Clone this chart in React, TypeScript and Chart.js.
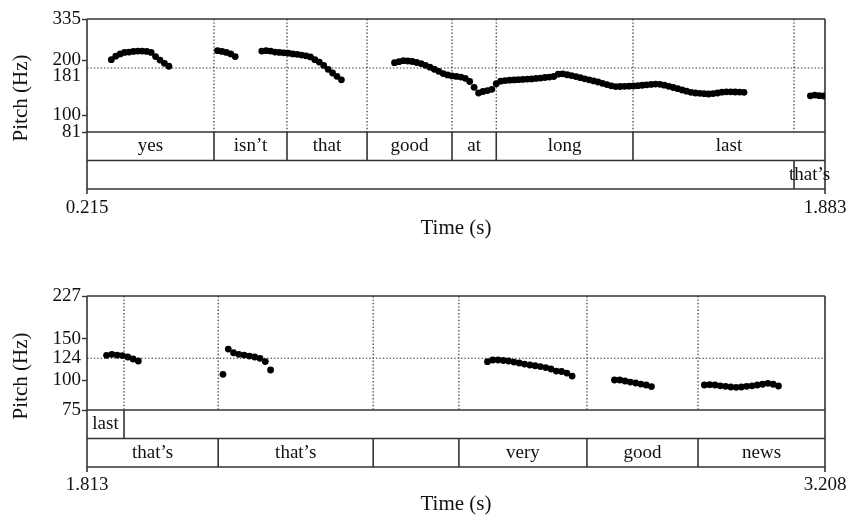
import React, { useEffect, useRef } from "react";
import { Chart, registerables } from "chart.js";

Chart.register(...registerables);

const FONT = '"Liberation Serif", "Times New Roman", serif';

// ---- pitch track: time (s) and F0 (Hz), one pair of arrays per voiced stretch ----
const yesTimes = [0.27, 0.28, 0.29, 0.30, 0.31, 0.32, 0.33, 0.34, 0.35, 0.36, 0.37, 0.38, 0.39, 0.40];
const yesHz = [201, 210, 216, 220, 221, 223, 224, 224, 223, 220, 209, 200, 192, 185];

const isntTimes = [0.51, 0.52, 0.53, 0.54, 0.55];
const isntHz = [225, 223, 220, 216, 209];

const thatTimes = [0.61, 0.62, 0.63, 0.64, 0.65, 0.66, 0.67, 0.68, 0.69, 0.70, 0.71, 0.72, 0.73, 0.74, 0.75, 0.76, 0.77, 0.78, 0.79];
const thatHz = [224, 225, 224, 221, 220, 219, 218, 216, 215, 213, 211, 208, 201, 195, 187, 178, 170, 163, 156];

const goodLongLastTimes = [
  0.91, 0.92, 0.93, 0.94, 0.95, 0.96, 0.97, 0.98, 0.99, 1.00,
  1.01, 1.02, 1.03, 1.04, 1.05, 1.06, 1.07, 1.08, 1.09, 1.10,
  1.11, 1.12, 1.13, 1.14, 1.15, 1.16, 1.17, 1.18, 1.19, 1.20,
  1.21, 1.22, 1.23, 1.24, 1.25, 1.26, 1.27, 1.28, 1.29, 1.30,
  1.31, 1.32, 1.33, 1.34, 1.35, 1.36, 1.37, 1.38, 1.39, 1.40,
  1.41, 1.42, 1.43, 1.44, 1.45, 1.46, 1.47, 1.48, 1.49, 1.50,
  1.51, 1.52, 1.53, 1.54, 1.55, 1.56, 1.57, 1.58, 1.59, 1.60,
  1.61, 1.62, 1.63, 1.64, 1.65, 1.66, 1.67, 1.68, 1.69, 1.70,
];
const goodLongLastHz = [
  193.5, 195.9, 198.4, 197.6, 196.4, 194.0, 191.3, 187.3, 182.9, 178.2,
  173.6, 168.7, 166.0, 163.9, 162.9, 161.6, 159.0, 152.8, 142.0, 132.2,
  134.7, 136.3, 138.5, 148.5, 153.3, 154.5, 155.3, 155.8, 156.4, 156.8,
  157.4, 157.8, 158.7, 159.5, 160.6, 161.6, 162.7, 167.5, 168.3, 166.3,
  164.6, 162.5, 160.3, 158.0, 156.1, 153.9, 151.8, 149.3, 146.9, 144.6,
  143.3, 143.5, 143.7, 144.0, 144.4, 144.9, 145.7, 146.6, 147.2, 147.9,
  147.5, 145.8, 143.7, 141.7, 139.6, 137.3, 135.3, 133.4, 132.2, 131.6,
  131.1, 130.6, 131.2, 132.2, 133.6, 134.2, 134.1, 133.9, 133.7, 133.4,
];

const lastThatsTimes = [1.85, 1.86, 1.87, 1.88, 1.89, 1.90, 1.91];
const lastThatsHz = [127.6, 128.8, 127.9, 127.3, 125.5, 123.1, 120.7];

const thatsTimes = [2.07, 2.08, 2.09, 2.10, 2.11, 2.12, 2.13, 2.14, 2.15, 2.16];
const thatsHz = [106.1, 135.6, 130.8, 128.8, 127.9, 126.7, 125.5, 123.9, 120.1, 110.6];

const veryTimes = [2.57, 2.58, 2.59, 2.60, 2.61, 2.62, 2.63, 2.64, 2.65, 2.66, 2.67, 2.68, 2.69, 2.70, 2.71, 2.72, 2.73];
const veryHz = [119.9, 121.9, 121.9, 121.3, 120.7, 119.5, 118.4, 117.2, 116.1, 115.3, 114.4, 113.3, 111.7, 109.5, 109.0, 107.4, 104.3];

const goodTimes = [2.81, 2.82, 2.83, 2.84, 2.85, 2.86, 2.87, 2.88];
const goodHz = [100.4, 100.4, 99.4, 98.4, 97.5, 96.5, 95.6, 94.2];

const newsTimes = [2.98, 2.99, 3.00, 3.01, 3.02, 3.03, 3.04, 3.05, 3.06, 3.07, 3.08, 3.09, 3.10, 3.11, 3.12];
const newsHz = [95.6, 95.9, 95.6, 94.9, 94.4, 93.8, 93.5, 93.8, 94.4, 94.9, 95.6, 96.3, 97.2, 96.3, 94.7];

// ---- text-grid tiers ----
const wordLabels = ["yes", "isn\u2019t", "that", "good", "at", "long", "last", ""];
const wordBounds = [0.215, 0.502, 0.667, 0.848, 1.04, 1.14, 1.449, 1.883, 3.208];
const phraseLabels = ["", "that\u2019s", "that\u2019s", "", "very", "good", "news"];
const phraseBounds = [0.215, 1.813, 2.061, 2.354, 2.516, 2.758, 2.968, 3.208];

// ---- panels ----
const panelTimeMin = [0.215, 1.813];
const panelTimeMax = [1.883, 3.208];
const panelTimeLabels = [["0.215", "1.883"], ["1.813", "3.208"]];
const panelHzMin = [81, 75];
const panelHzMax = [335, 227];
const panelHzTicks = [[81, 100, 181, 200, 335], [75, 100, 124, 150, 227]];
const panelRefHz = [181, 124];
const panelShiftedTick = [181, -1];

// layout (pixels)
const canvasTop = [0, 250];
const canvasHeight = [250, 265];
const plotTop = [19, 46];
const xScaleHeight = [118, 105];
const xTickPad = [64.6, 63.6];
const xTitlePad = [11.5, 0];
const yTitleCenter = [98, 126];

const pitchSegments: [number[], number[]][] = [
  [yesTimes, yesHz],
  [isntTimes, isntHz],
  [thatTimes, thatHz],
  [goodLongLastTimes, goodLongLastHz],
  [lastThatsTimes, lastThatsHz],
  [thatsTimes, thatsHz],
  [veryTimes, veryHz],
  [goodTimes, goodHz],
  [newsTimes, newsHz],
];

function pitchPoints() {
  const pts: { x: number; y: number }[] = [];
  pitchSegments.forEach(([ts, hz]) => ts.forEach((t, i) => pts.push({ x: t, y: hz[i] })));
  return pts;
}

function makeTierPlugin(p: number) {
  const tMin = panelTimeMin[p];
  const tMax = panelTimeMax[p];
  return {
    id: "tiers" + p,
    beforeDatasetsDraw(chart: any) {
      const { ctx, chartArea: a, scales } = chart;
      const x = scales.x;
      const y = scales.y;
      const tierH = 28.5;
      const t1 = a.bottom + tierH;
      const t2 = a.bottom + 2 * tierH;
      const line = (x1: number, y1: number, x2: number, y2: number) => {
        ctx.beginPath();
        ctx.moveTo(x1, y1);
        ctx.lineTo(x2, y2);
        ctx.stroke();
      };
      ctx.save();
      // dotted reference lines
      ctx.strokeStyle = "#333";
      ctx.lineWidth = 1.2;
      ctx.setLineDash([1.4, 2]);
      const yRef = y.getPixelForValue(panelRefHz[p]);
      line(a.left, yRef, a.right, yRef);
      const inner = [...wordBounds, ...phraseBounds].filter((b) => b > tMin && b < tMax);
      inner.forEach((b) => {
        const px = x.getPixelForValue(b);
        line(px, a.top, px, a.bottom);
      });
      ctx.setLineDash([]);
      // box
      ctx.strokeStyle = "#333";
      ctx.lineWidth = 1.6;
      line(a.left, a.top, a.right, a.top);
      line(a.left, a.top, a.left, t2);
      line(a.right, a.top, a.right, t2);
      line(a.left, a.bottom, a.right, a.bottom);
      line(a.left, t1, a.right, t1);
      line(a.left, t2, a.right, t2);
      line(a.left, t2, a.left, t2 + 5);
      line(a.right, t2, a.right, t2 + 5);
      // tiers
      const drawTier = (labels: string[], bounds: number[], top: number, bottom: number) => {
        bounds.forEach((b) => {
          if (b > tMin && b < tMax) {
            const px = x.getPixelForValue(b);
            line(px, top, px, bottom);
          }
        });
        ctx.fillStyle = "#111";
        ctx.font = "19px " + FONT;
        ctx.textAlign = "center";
        ctx.textBaseline = "middle";
        labels.forEach((lab, i) => {
          const s = Math.max(bounds[i], tMin);
          const e = Math.min(bounds[i + 1], tMax);
          if (!lab || e <= s) return;
          const cx = (x.getPixelForValue(s) + x.getPixelForValue(e)) / 2;
          ctx.fillText(lab, cx, (top + bottom) / 2);
        });
      };
      drawTier(wordLabels, wordBounds, a.bottom, t1);
      drawTier(phraseLabels, phraseBounds, t1, t2);
      // y title
      ctx.translate(21, yTitleCenter[p]);
      ctx.rotate(-Math.PI / 2);
      ctx.fillStyle = "#111";
      ctx.font = "21px " + FONT;
      ctx.textAlign = "center";
      ctx.textBaseline = "middle";
      ctx.fillText("Pitch (Hz)", 0, 0);
      ctx.restore();
    },
  };
}

function Panel({ p }: { p: number }) {
  const ref = useRef<HTMLCanvasElement>(null);
  useEffect(() => {
    const canvas = ref.current;
    if (!canvas) return;
    const shifted = panelShiftedTick[p];
    const chart = new Chart(canvas, {
      type: "scatter",
      data: {
        datasets: [
          {
            data: pitchPoints(),
            pointRadius: 3.4,
            pointBackgroundColor: "#000",
            pointBorderWidth: 0,
            showLine: false,
            clip: 0,
          } as any,
        ],
      },
      options: {
        animation: false,
        responsive: false,
        events: [],
        devicePixelRatio: 1,
        layout: { padding: { left: 0, right: 22, top: plotTop[p], bottom: 0 } },
        plugins: { legend: { display: false }, tooltip: { enabled: false } },
        scales: {
          x: {
            type: "linear",
            position: "bottom",
            min: panelTimeMin[p],
            max: panelTimeMax[p],
            afterBuildTicks: (s: any) => {
              s.ticks = [{ value: panelTimeMin[p] }, { value: panelTimeMax[p] }];
            },
            afterFit: (s: any) => {
              s.height = xScaleHeight[p];
              s.paddingLeft = 0;
              s.paddingRight = 0;
            },
            ticks: {
              autoSkip: false,
              maxRotation: 0,
              padding: xTickPad[p],
              color: "#111",
              font: { family: FONT, size: 19, lineHeight: 1.2 },
              callback: (_v: any, i: number) => panelTimeLabels[p][i],
            },
            grid: { display: false, drawTicks: false },
            border: { display: false },
            title: {
              display: true,
              text: "Time (s)",
              color: "#111",
              font: { family: FONT, size: 21, lineHeight: 1 },
              padding: { top: 0, bottom: xTitlePad[p] },
            },
          },
          y: {
            type: "logarithmic",
            position: "left",
            min: panelHzMin[p],
            max: panelHzMax[p],
            afterBuildTicks: (s: any) => {
              s.ticks = panelHzTicks[p].map((v) => ({ value: v }));
            },
            afterFit: (s: any) => {
              s.width = 87;
            },
            ticks: {
              autoSkip: false,
              padding: 1,
              color: "#111",
              font: (c: any) => ({
                family: FONT,
                size: 19,
                lineHeight: c.tick && c.tick.value === shifted ? 0.88 : 1.2,
              }),
              callback: (v: any) => (v === shifted ? ["", String(v)] : String(v)),
            },
            grid: {
              display: true,
              drawOnChartArea: false,
              drawTicks: true,
              tickLength: 5,
              tickWidth: 1.4,
              tickColor: (c: any) =>
                c.tick && c.tick.value === panelRefHz[p] ? "rgba(0,0,0,0)" : "#333",
            },
            border: { display: false },
          },
        },
      } as any,
      plugins: [makeTierPlugin(p)],
    });
    return () => chart.destroy();
  }, [p]);
  return (
    <canvas
      ref={ref}
      width={847}
      height={canvasHeight[p]}
      style={{
        position: "absolute",
        left: 0,
        top: canvasTop[p],
        width: 847,
        height: canvasHeight[p],
        display: "block",
      }}
    />
  );
}

export default function App() {
  return (
    <div
      style={{
        position: "absolute",
        left: 0,
        top: 0,
        width: 847,
        height: 515,
        background: "#fff",
        overflow: "hidden",
      }}
    >
      <Panel p={0} />
      <Panel p={1} />
    </div>
  );
}
